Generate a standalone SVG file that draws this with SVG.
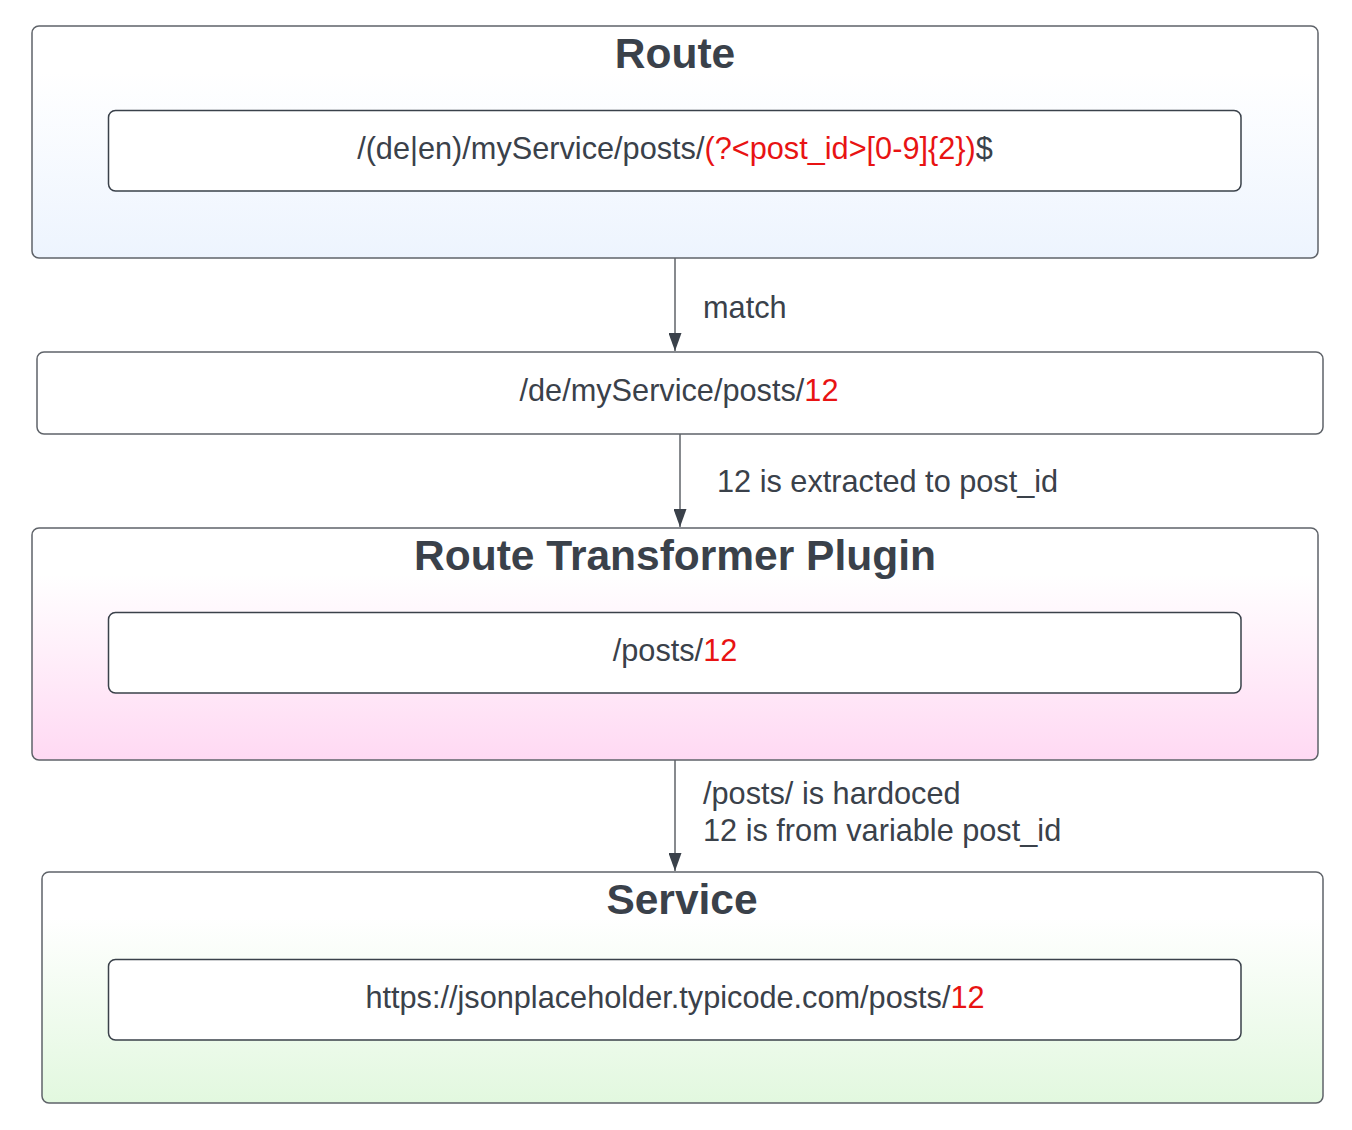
<svg xmlns="http://www.w3.org/2000/svg" width="1352" height="1130" viewBox="0 0 1352 1130">
<style>
.outer{stroke:#5f6369;stroke-width:1.5}
.inner{fill:#ffffff;stroke:#3a414a;stroke-width:1.5}
.title{font-family:"Liberation Sans",Arial,sans-serif;font-weight:bold;font-size:42.5px;fill:#3a414a;text-anchor:middle}
.body{font-family:"Liberation Sans",Arial,sans-serif;font-size:30.7px;fill:#3a414a}
.mid{text-anchor:middle}
.red{fill:#e81313}
.conn{stroke:#5f6369;stroke-width:1.5;fill:none}
</style>
<defs>
<linearGradient id="gBlue" x1="0" y1="0" x2="0" y2="1">
<stop offset="0" stop-color="#ffffff"/><stop offset="0.2" stop-color="#ffffff"/><stop offset="1" stop-color="#edf4fe"/>
</linearGradient>
<linearGradient id="gPink" x1="0" y1="0" x2="0" y2="1">
<stop offset="0" stop-color="#ffffff"/><stop offset="0.2" stop-color="#ffffff"/><stop offset="1" stop-color="#ffd9f3"/>
</linearGradient>
<linearGradient id="gGreen" x1="0" y1="0" x2="0" y2="1">
<stop offset="0" stop-color="#ffffff"/><stop offset="0.2" stop-color="#ffffff"/><stop offset="1" stop-color="#e2f8df"/>
</linearGradient>
<marker id="arr" markerUnits="userSpaceOnUse" markerWidth="18" markerHeight="13" refX="18" refY="6.5" orient="auto" viewBox="0 0 18 13">
<path d="M0,0 L18,6.5 L0,13 Z" fill="#3a414a"/>
</marker>
</defs>

<g id="connectors">
<line class="conn" x1="675" y1="258" x2="675" y2="351" marker-end="url(#arr)"/>
<line class="conn" x1="680" y1="434" x2="680" y2="527" marker-end="url(#arr)"/>
<line class="conn" x1="675" y1="760" x2="675" y2="871" marker-end="url(#arr)"/>
<text class="body" x="703" y="318">match</text>
<text class="body" x="717" y="492">12 is extracted to post_id</text>
<text class="body" x="703" y="804">/posts/ is hardoced</text>
<text class="body" x="703" y="841">12 is from variable post_id</text>
</g>

<g id="route">
<rect class="outer" x="32" y="26" width="1286" height="232" rx="7" fill="url(#gBlue)"/>
<text class="title" x="675" y="68">Route</text>
<g id="route-pattern">
<rect class="inner" x="108.5" y="110.5" width="1132.5" height="80.5" rx="7"/>
<text class="body mid" x="675" y="159">/(de|en)/myService/posts/<tspan class="red">(?&lt;post_id&gt;[0-9]{2})</tspan>$</text>
</g>
</g>

<g id="request">
<rect class="outer" x="37" y="352" width="1286" height="82" rx="7" fill="#ffffff"/>
<text class="body mid" x="679" y="401">/de/myService/posts/<tspan class="red">12</tspan></text>
</g>

<g id="plugin">
<rect class="outer" x="32" y="528" width="1286" height="232" rx="7" fill="url(#gPink)"/>
<text class="title" x="675" y="570">Route Transformer Plugin</text>
<g id="plugin-path">
<rect class="inner" x="108.5" y="612.5" width="1132.5" height="80.5" rx="7"/>
<text class="body mid" x="675" y="661">/posts/<tspan class="red">12</tspan></text>
</g>
</g>

<g id="service">
<rect class="outer" x="42" y="872" width="1281" height="231" rx="7" fill="url(#gGreen)"/>
<text class="title" x="682" y="914">Service</text>
<g id="service-url">
<rect class="inner" x="108.5" y="959.5" width="1132.5" height="80.5" rx="7"/>
<text class="body mid" x="675" y="1008">https://jsonplaceholder.typicode.com/posts/<tspan class="red">12</tspan></text>
</g>
</g>
</svg>
